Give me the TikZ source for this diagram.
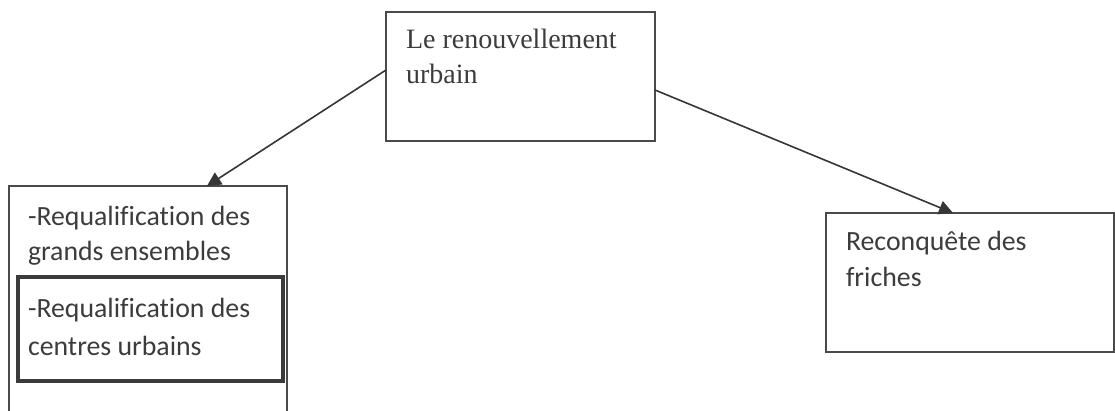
\documentclass[tikz,border=0pt]{standalone}
\usepackage{fontspec}
\setmainfont{Liberation Serif}
\newfontfamily\calibri[Ligatures=NoCommon]{Carlito}
\usetikzlibrary{arrows.meta}
\definecolor{ink}{HTML}{3C3C3C}
\definecolor{edge}{HTML}{4A4A4A}
\tikzset{
  boxstyle/.style={draw=edge, line width=1.2pt, rectangle, inner sep=0pt, outer sep=0pt},
  thickbox/.style={draw=edge!80!black, line width=3.4pt, rectangle, inner sep=0pt, outer sep=0pt},
  txt/.style={anchor=base west, inner sep=0pt, outer sep=0pt, text=ink, font=\fontsize{28}{34}\selectfont},
  ctxt/.style={txt, font=\calibri\fontsize{27.8}{34}\selectfont},
  link/.style={draw=ink!90!black, line width=1.6pt, -{Triangle[length=14pt,width=14pt]}}
}
\begin{document}
\begin{tikzpicture}[x=1pt,y=1pt]
\useasboundingbox (0,0) rectangle (1115,-410);
\clip (0,0) rectangle (1115,-410);
\fill[white] (0,0) rectangle (1115,-410);
% boxes
\node[boxstyle, minimum width=269pt, minimum height=129pt] (top) at (520.5,-76.5) {};
\node[boxstyle, minimum width=278pt, minimum height=250pt] (lb) at (148,-311) {};
\node[thickbox, minimum width=265pt, minimum height=104pt] (inner) at (150.5,-329) {};
\node[boxstyle, minimum width=288pt, minimum height=139pt] (rb) at (970,-282.5) {};
% texts
\node[txt] (t1) at (406,-48) {Le renouvellement};
\node[txt] (t2) at (406,-83) {urbain};
\node[ctxt] (l1) at (28,-225) {-Requalification des};
\node[ctxt] (l2) at (28,-260) {grands ensembles};
\node[ctxt] (i1) at (28,-317) {-Requalification des};
\node[ctxt] (i2) at (28,-355) {centres urbains};
\node[ctxt] (r1) at (846,-250) {Reconquête des};
\node[ctxt] (r2) at (846,-286) {friches};
% connectors
\draw[link] ([yshift=6.5pt]top.west) -- ([xshift=198pt]lb.north west);
\draw[link] ([yshift=-13.5pt]top.east) -- ([xshift=127pt]rb.north west);
\end{tikzpicture}
\end{document}
